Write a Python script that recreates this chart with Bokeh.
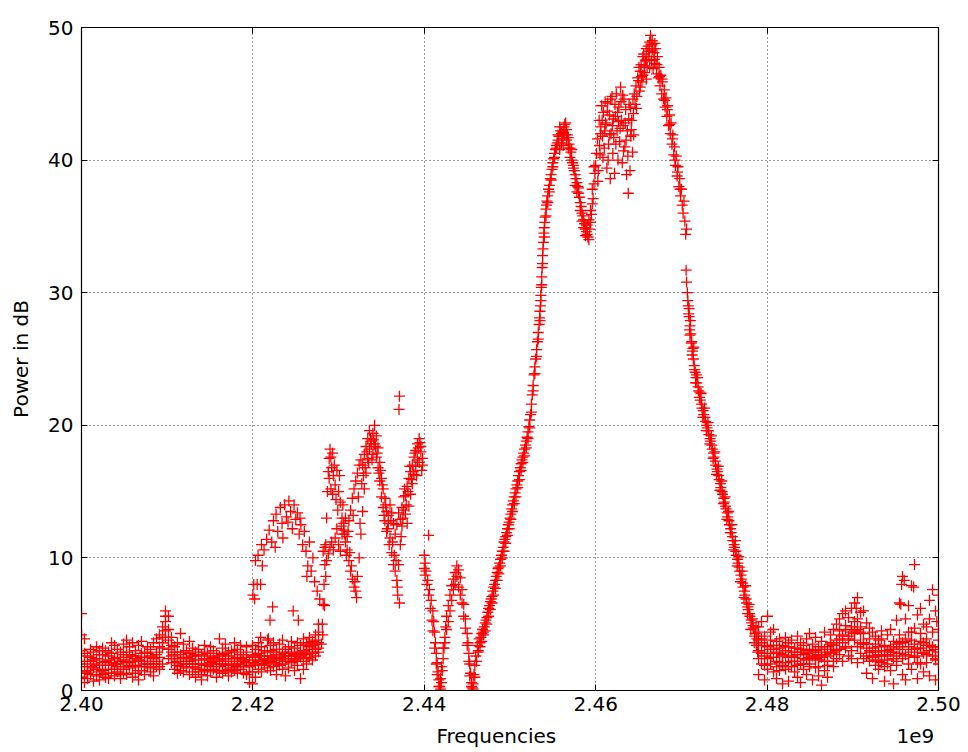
from bokeh.plotting import figure
from bokeh.models import Range1d, FixedTicker, NumeralTickFormatter, LinearAxis, CustomJSTickFormatter
from bokeh.embed import file_html
from bokeh.resources import INLINE

# frequency offsets in MHz above 2.40 GHz, power in dB
BASE_GHZ = 2.40

# low-band noise floor (five sweeps per bin)
low_mhz = [0.0, 0.35, 0.7, 1.05, 1.4, 1.75, 2.1, 2.45, 2.8, 3.15, 3.5, 3.85, 4.2, 4.55, 4.9, 5.25, 5.6, 5.95,
           6.3, 6.65, 7.0, 7.35, 7.7, 8.05, 8.4, 8.75, 9.1, 9.45, 9.8, 10.15, 10.5, 10.85, 11.2, 11.55, 11.9,
           12.25, 12.6, 12.95, 13.3, 13.65, 14.0, 14.35, 14.7, 15.05, 15.4, 15.75, 16.1, 16.45, 16.8, 17.15,
           17.5, 17.85, 18.2, 18.55, 18.9, 19.25, 19.6, 19.95, 20.3, 20.65, 21.0, 21.35, 21.7, 22.05, 22.4,
           22.75, 23.1, 23.45, 23.8, 24.15, 24.5, 24.85, 25.2, 25.55, 25.9, 26.25, 26.6, 26.95, 27.3, 27.65]
low_db_a = [5.8, 3.9, 2.6, 3.1, 1.7, 2.4, 1.9, 3.2, 2.2, 1.6, 2.8, 2.0, 1.4, 2.9, 3.5, 2.1, 1.7, 2.6,
            3.0, 2.3, 1.5, 2.9, 3.3, 2.0, 3.6, 1.8, 2.5, 4.8, 6.0, 5.6, 3.4, 2.7, 2.2, 4.3, 2.0,
            1.7, 3.7, 1.4, 2.3, 3.1, 1.2, 2.4, 1.9, 3.3, 1.6, 2.8, 3.9, 2.2, 1.5, 2.6,
            3.0, 1.9, 2.5, 3.4, 1.8, 2.9, 1.4, 2.6, 2.0, 2.8, 2.3, 3.0, 1.7, 3.4, 2.5,
            3.1, 2.7, 3.8, 2.2, 3.3, 2.9, 2.4, 3.6, 2.6, 3.9, 2.8, 3.3, 3.7, 4.2, 5.0]
low_db_b = [4.2, 1.4, 0.9, 1.2, 2.9, 1.1, 0.8, 1.5, 1.0, 2.6, 1.3, 3.4, 2.5, 0.9, 1.6, 3.8, 2.7, 1.0,
            1.9, 3.4, 2.8, 1.2, 1.8, 3.1, 2.4, 2.9, 4.2, 3.2, 5.2, 3.8, 2.1, 1.6, 3.6, 2.4, 2.9,
            3.0, 2.2, 2.6, 1.0, 1.6, 2.7, 1.5, 2.8, 2.1, 2.5, 1.0, 1.8, 3.2, 2.4, 1.1,
            1.7, 2.9, 1.3, 2.0, 2.7, 1.2, 2.3, 0.5, 3.1, 1.6, 3.3, 1.9, 2.9, 2.2, 3.6,
            2.0, 3.5, 2.4, 3.1, 2.6, 3.7, 3.2, 2.8, 3.4, 2.2, 3.5, 2.5, 2.9, 3.1, 3.6]
low_db_c = [1.0, 0.6, 1.8, 2.2, 0.7, 3.3, 2.7, 2.1, 3.0, 0.9, 3.6, 1.1, 3.1, 1.8, 2.3, 1.2, 3.3, 3.6,
            1.3, 0.8, 3.7, 2.2, 2.5, 1.4, 1.1, 3.9, 1.6, 2.0, 4.5, 2.4, 4.0, 3.3, 1.9, 1.5, 3.5,
            2.5, 1.2, 3.2, 2.9, 2.0, 0.8, 3.4, 1.1, 1.4, 3.0, 2.0, 2.6, 1.3, 3.5, 2.0,
            2.4, 3.6, 3.1, 1.6, 2.2, 3.3, 0.6, 3.4, 1.0, 3.6, 1.4, 2.6, 3.8, 1.5, 1.8,
            1.2, 1.9, 1.6, 1.1, 1.7, 2.1, 1.5, 1.9, 0.9, 1.6, 2.0, 4.0, 2.3, 2.6, 2.9]
low_db_d = [2.0, 2.8, 1.3, 2.5, 2.0, 1.6, 3.0, 1.2, 1.9, 2.3, 1.9, 2.4, 2.0, 1.2, 2.7, 2.5, 1.9, 2.2,
            2.4, 1.8, 2.2, 1.8, 2.0, 2.6, 1.8, 2.2, 3.3, 3.6, 5.6, 4.6, 2.6, 2.1, 2.9, 2.7, 1.4,
            2.2, 2.8, 2.0, 1.7, 2.6, 2.0, 1.9, 2.4, 2.6, 2.2, 1.5, 2.3, 2.7, 1.9, 2.9,
            2.2, 1.5, 2.0, 2.7, 1.3, 2.1, 1.9, 1.4, 2.5, 2.2, 2.0, 2.4, 2.3, 2.6, 2.9,
            2.7, 2.3, 2.9, 2.6, 2.4, 2.2, 2.7, 2.4, 2.9, 3.0, 2.7, 3.1, 3.4, 3.8, 4.4]
low_db_e = [3.0, 2.2, 1.5, 1.8, 2.3, 1.9, 1.4, 2.7, 1.3, 2.9, 2.1, 1.6, 1.8, 2.2, 1.3, 2.9, 2.1, 1.8,
            2.6, 1.5, 2.5, 2.0, 2.8, 1.7, 2.0, 2.7, 1.8, 4.0, 4.0, 3.1, 2.9, 2.4, 1.3, 1.8, 2.5,
            2.0, 2.4, 1.8, 2.7, 1.4, 1.6, 2.9, 2.3, 1.8, 2.0, 2.4, 1.4, 2.0, 2.8, 1.6,
            1.4, 2.4, 1.8, 2.4, 2.3, 2.5, 1.8, 2.1, 2.7, 1.9, 2.6, 2.0, 2.1, 3.0, 2.1,
            2.4, 2.5, 2.0, 2.8, 2.2, 2.6, 2.3, 2.8, 2.5, 3.0, 2.4, 3.6, 2.8, 3.5, 3.2]

# secondary hump from one sweep (2.420-2.428 GHz)
hump = [(20.0, 7.2), (20.1, 8.0), (20.2, 6.9), (20.3, 9.8), (20.5, 8.0), (20.6, 10.2), (20.9, 8.0), (21.0, 11.0),
        (21.3, 10.6), (21.6, 11.4), (21.9, 12.1), (22.2, 11.2), (22.4, 12.8), (22.7, 13.3), (22.9, 12.0),
        (23.2, 13.8), (23.4, 12.6), (23.7, 14.0), (23.9, 13.1), (24.2, 14.3), (24.4, 13.5), (24.6, 12.2),
        (24.8, 14.0), (25.0, 12.9), (25.2, 13.4), (25.4, 11.8), (25.6, 12.5), (25.8, 11.0), (26.0, 12.0),
        (26.2, 10.5), (26.4, 9.4), (26.6, 11.2), (26.8, 9.0), (27.0, 10.0), (27.2, 8.2), (27.5, 7.5),
        (27.8, 6.9), (22.3, 6.3), (22.0, 5.3), (24.7, 6.0), (25.3, 5.3), (20.9, 4.0), (21.8, 3.9),
        (21.1, 9.4), (22.6, 10.8), (23.5, 11.5), (24.1, 12.7), (25.5, 13.0), (26.3, 8.6)]

# band 2.428-2.440 GHz, three sweeps
mid_a = [(28.0, 3.5), (28.1, 5.0), (28.2, 6.5), (28.3, 8.0), (28.4, 9.5), (28.5, 11.0), (28.6, 13.0),
         (28.7, 15.0), (28.8, 16.5), (28.9, 17.5), (29.0, 18.2), (29.1, 17.6), (29.2, 16.8), (29.3, 17.9),
         (29.4, 16.2), (29.6, 15.5), (29.8, 16.6), (30.0, 15.0), (30.2, 14.2), (30.4, 13.0), (30.6, 12.1),
         (30.8, 11.2), (31.0, 10.6), (31.2, 9.8), (31.4, 9.0), (31.6, 8.4), (31.8, 7.8), (32.0, 7.5),
         (32.2, 8.6), (32.4, 10.0), (32.6, 11.8), (32.8, 13.5), (33.0, 15.2), (33.2, 16.4), (33.4, 17.5),
         (33.6, 18.2), (33.8, 18.8), (34.0, 19.4), (34.2, 20.0), (34.4, 19.2), (34.6, 18.3), (34.8, 17.2),
         (35.0, 16.0), (35.2, 15.2), (35.4, 14.5), (35.6, 13.5), (35.8, 12.6), (36.0, 11.5), (36.2, 10.4),
         (36.4, 9.5), (36.6, 9.0), (36.8, 8.3), (37.0, 9.5), (37.2, 11.0), (37.4, 12.4), (37.6, 13.6),
         (37.8, 14.7), (38.0, 15.4), (38.2, 16.0), (38.4, 16.5), (38.6, 17.0), (38.8, 17.6), (39.0, 18.1),
         (39.2, 18.6), (39.4, 19.0), (39.6, 18.4), (39.8, 17.5)]
mid_b = [(28.2, 10.5), (28.4, 10.8), (28.6, 9.8), (28.8, 10.3), (29.0, 10.8), (29.2, 11.2), (29.4, 10.6),
         (29.6, 11.5), (29.8, 12.2), (30.0, 11.0), (30.2, 10.5), (30.4, 11.8), (30.6, 12.6), (30.8, 13.0),
         (31.0, 11.6), (31.2, 12.8), (31.4, 13.6), (31.6, 14.5), (31.8, 15.2), (32.0, 15.8), (32.2, 16.4),
         (32.4, 17.0), (32.6, 17.4), (32.8, 17.0), (33.0, 17.8), (33.2, 18.4), (33.4, 19.0), (33.6, 19.6),
         (33.8, 18.6), (34.0, 17.8), (34.2, 18.6), (34.4, 17.6), (34.6, 16.8), (34.8, 15.8), (35.0, 14.6),
         (35.2, 13.8), (35.4, 12.8), (35.6, 12.0), (35.8, 13.2), (36.0, 14.0), (36.2, 13.4), (36.4, 12.6),
         (36.6, 11.8), (36.8, 12.5), (37.0, 13.4), (37.2, 12.9), (37.4, 13.8), (37.6, 14.6), (37.8, 13.3),
         (38.0, 12.6), (38.2, 13.9), (38.4, 14.8), (38.6, 15.6), (38.8, 16.3), (39.0, 16.9), (39.2, 17.4),
         (39.4, 17.2), (39.6, 18.0), (39.8, 17.0), (37.1, 22.2), (37.05, 21.2), (37.1, 6.6), (36.9, 7.2),
         (36.85, 7.8), (31.9, 8.2), (32.1, 7.0), (28.15, 4.2), (28.35, 6.4), (28.5, 8.6)]
mid_c = [(28.9, 16.0), (29.1, 15.2), (29.3, 14.8), (29.5, 17.0), (29.7, 14.4), (29.9, 13.6), (30.1, 16.2),
         (30.3, 12.4), (30.5, 14.0), (30.7, 11.8), (30.9, 10.2), (31.1, 12.0), (31.3, 10.4), (31.5, 9.4),
         (31.7, 13.2), (32.3, 14.6), (32.5, 12.6), (32.7, 15.6), (32.9, 16.2), (33.1, 16.8), (33.3, 18.0),
         (33.5, 17.2), (33.7, 19.0), (33.9, 17.4), (34.1, 18.9), (34.3, 18.4), (34.5, 17.9), (34.7, 16.4),
         (34.9, 16.6), (35.1, 15.5), (35.3, 13.2), (35.5, 14.0), (35.7, 12.2), (35.9, 11.0), (36.1, 12.8),
         (36.3, 11.2), (36.5, 10.2), (36.7, 9.8), (37.3, 11.6), (37.5, 13.0), (37.7, 15.2), (37.9, 14.0),
         (38.1, 15.0), (38.3, 16.9), (38.5, 15.9), (38.7, 16.5), (38.9, 17.9), (39.1, 16.2), (39.3, 18.3),
         (39.5, 18.7), (39.7, 16.6)]

# band 2.440-2.446 GHz, two sweeps
dip_a = [(40.0, 10.2), (40.1, 9.6), (40.2, 9.0), (40.4, 8.3), (40.5, 11.7), (40.6, 7.6), (40.8, 6.8),
         (41.0, 6.0), (41.1, 5.2), (41.2, 4.4), (41.3, 3.6), (41.4, 2.8), (41.5, 2.1), (41.6, 1.4),
         (41.7, 0.8), (41.8, 0.3), (41.9, 0.1), (42.0, 0.6), (42.1, 1.5), (42.2, 2.4), (42.3, 3.2),
         (42.4, 4.0), (42.5, 4.8), (42.6, 5.6), (42.8, 6.4), (43.0, 7.2), (43.2, 7.9), (43.4, 8.4),
         (43.6, 8.9), (43.8, 9.4), (44.0, 9.1), (44.2, 8.5), (44.4, 7.6), (44.6, 6.5), (44.8, 5.4),
         (45.0, 4.3), (45.1, 3.6), (45.2, 2.8), (45.3, 2.0), (45.4, 1.3), (45.5, 0.6), (45.6, 0.2),
         (45.7, 0.5), (45.8, 1.2), (45.9, 1.9), (46.0, 2.6)]
dip_b = [(40.0, 9.2), (40.1, 8.7), (40.3, 8.0), (40.5, 7.2), (40.7, 6.2), (40.9, 5.3), (41.0, 4.5),
         (41.2, 3.2), (41.4, 2.0), (41.5, 1.2), (41.7, 0.3), (41.9, 0.9), (42.0, 1.8), (42.2, 3.2),
         (42.4, 3.6), (42.6, 4.6), (42.8, 5.2), (43.0, 6.0), (43.2, 6.8), (43.4, 7.6), (43.6, 8.0),
         (43.8, 8.6), (44.0, 7.8), (44.2, 7.2), (44.4, 6.6), (44.6, 5.6), (44.8, 4.7), (45.0, 3.4),
         (45.2, 2.2), (45.3, 1.1), (45.5, 0.3), (45.7, 0.1), (45.9, 1.0)]

# main lobe rising edge and first peak, three sweeps
rise_a = [(46.2, 3.4), (46.4, 3.9), (46.6, 4.0), (46.8, 4.6), (47.0, 4.8), (47.2, 5.3), (47.4, 5.9),
          (47.6, 6.4), (47.8, 6.9), (48.0, 7.5), (48.2, 8.0), (48.4, 8.6), (48.6, 9.2), (48.8, 9.6),
          (49.0, 10.2), (49.2, 10.8), (49.4, 11.4), (49.6, 11.9), (49.8, 12.5), (50.0, 13.0), (50.2, 13.7),
          (50.4, 14.3), (50.6, 14.9), (50.8, 15.5), (51.0, 16.2), (51.2, 16.8), (51.4, 17.4), (51.6, 17.9),
          (51.8, 18.5), (52.0, 19.1), (52.2, 19.9), (52.4, 20.8), (52.6, 22.3), (52.8, 23.8), (53.0, 25.0),
          (53.2, 26.3), (53.4, 27.6), (53.5, 28.6), (53.6, 29.4), (53.7, 31.2), (53.8, 32.8), (53.9, 33.8),
          (54.0, 34.9), (54.1, 35.7), (54.2, 36.3), (54.3, 36.9), (54.5, 37.8), (54.7, 38.6), (54.9, 39.3),
          (55.1, 40.1), (55.3, 40.8), (55.5, 41.3), (55.7, 41.8), (55.9, 42.2), (56.1, 41.6), (56.3, 42.5),
          (56.5, 42.8), (56.7, 41.9), (56.9, 41.2), (57.1, 40.6), (57.3, 39.8), (57.5, 39.2), (57.7, 38.6),
          (57.9, 38.0), (58.1, 37.2), (58.3, 36.5), (58.5, 35.8), (58.7, 35.2), (58.9, 34.6), (59.1, 34.2),
          (59.3, 34.8), (59.5, 35.9), (59.7, 37.1), (59.9, 39.0), (60.1, 40.5)]
rise_b = [(46.1, 2.2), (46.3, 2.9), (46.5, 3.3), (46.7, 3.7), (46.9, 4.2), (47.1, 4.5), (47.3, 5.0),
          (47.5, 5.6), (47.7, 6.1), (47.9, 6.6), (48.1, 7.2), (48.3, 7.7), (48.5, 8.3), (48.7, 8.8),
          (48.9, 9.4), (49.1, 10.0), (49.3, 10.5), (49.5, 11.1), (49.7, 11.7), (49.9, 12.2), (50.1, 12.9),
          (50.3, 13.5), (50.5, 14.1), (50.7, 14.6), (50.9, 15.3), (51.1, 15.9), (51.3, 16.6), (51.5, 17.2),
          (51.7, 17.7), (51.9, 18.3), (52.1, 19.0), (52.3, 19.8), (52.5, 21.0), (52.7, 22.6), (52.9, 23.9),
          (53.1, 25.2), (53.3, 26.5), (53.5, 27.9), (53.6, 29.8), (53.7, 30.6), (53.8, 32.2), (54.0, 34.2),
          (54.2, 35.8), (54.4, 36.8), (54.6, 37.6), (54.8, 38.5), (55.0, 39.5), (55.2, 40.2), (55.4, 40.9),
          (55.6, 41.5), (55.8, 40.8), (56.0, 42.0), (56.2, 41.1), (56.4, 41.9), (56.6, 42.3), (56.8, 40.9),
          (57.0, 40.2), (57.2, 40.8), (57.4, 39.4), (57.6, 38.1), (57.8, 37.6), (58.0, 37.9), (58.2, 36.2),
          (58.4, 35.4), (58.6, 34.9), (58.8, 34.3), (59.0, 35.1), (59.2, 34.0), (59.4, 36.2), (59.6, 36.7),
          (59.8, 38.2), (60.0, 39.6)]
rise_c = [(46.3, 3.0), (46.5, 3.6), (46.7, 4.3), (46.9, 4.4), (47.1, 5.1), (47.3, 5.5), (47.5, 6.2),
          (47.7, 6.7), (47.9, 7.1), (48.1, 7.8), (48.3, 8.3), (48.5, 8.9), (48.7, 9.3), (48.9, 9.9),
          (49.1, 10.5), (49.3, 11.2), (49.5, 11.6), (49.7, 12.2), (49.9, 12.7), (50.1, 13.3), (50.3, 14.0),
          (50.5, 14.6), (50.7, 15.2), (50.9, 15.8), (51.1, 16.5), (51.3, 17.1), (51.5, 17.6), (51.7, 18.2),
          (51.9, 18.8), (52.1, 19.5), (52.3, 20.4), (52.5, 21.6), (52.7, 23.0), (52.9, 24.4), (53.1, 25.7),
          (53.3, 27.0), (53.45, 28.1), (53.55, 29.0), (53.65, 30.4), (53.75, 31.9), (53.85, 33.3),
          (53.95, 34.5), (54.05, 35.3), (54.25, 36.6), (54.4, 37.3), (54.6, 38.1), (54.8, 38.9), (55.0, 39.8),
          (55.2, 40.5), (55.4, 41.1), (55.6, 41.9), (55.8, 42.5), (56.0, 41.3), (56.2, 42.1), (56.4, 42.7),
          (56.6, 41.5), (56.8, 41.7), (57.0, 40.9), (57.2, 40.0), (57.4, 39.6), (57.6, 38.9), (57.8, 38.3),
          (58.0, 37.5), (58.2, 36.8), (58.4, 36.0), (58.6, 35.5), (58.8, 34.8), (59.0, 34.4), (59.2, 35.5),
          (59.4, 35.3), (59.6, 37.8), (59.8, 39.5)]

# noisy plateau 2.460-2.465 GHz
plateau = [(60.2, 41.6), (60.3, 39.2), (60.4, 43.0), (60.5, 40.4), (60.6, 42.5), (60.7, 44.1), (60.8, 41.8),
           (60.9, 43.6), (61.0, 40.9), (61.1, 44.4), (61.2, 42.7), (61.3, 39.4), (61.4, 44.3), (61.5, 41.2),
           (61.6, 43.4), (61.7, 38.6), (61.8, 42.0), (61.9, 44.8), (62.0, 40.5), (62.1, 41.7), (62.2, 39.0),
           (62.3, 43.3), (62.4, 45.0), (62.5, 42.2), (62.6, 40.0), (62.7, 44.0), (62.8, 41.4), (62.9, 45.5),
           (63.0, 43.0), (63.1, 39.8), (63.2, 42.6), (63.3, 44.6), (63.4, 41.0), (63.5, 43.8), (63.6, 38.9),
           (63.7, 42.2), (63.8, 37.5), (63.9, 44.2), (64.0, 39.2), (64.1, 41.8), (64.2, 43.0), (64.3, 40.6),
           (64.4, 43.5), (64.5, 45.0), (64.6, 44.2), (64.7, 45.6), (64.8, 44.8), (64.9, 46.2),
           (60.25, 38.4), (60.55, 42.0), (60.85, 40.2), (61.15, 42.8), (61.45, 40.0), (61.75, 44.6),
           (62.05, 43.1), (62.35, 41.2), (62.65, 42.9), (62.95, 44.4), (63.25, 40.7), (63.55, 41.5),
           (63.85, 43.1), (64.15, 42.3), (64.45, 41.9), (64.75, 43.9), (60.45, 41.1), (60.75, 43.0),
           (61.05, 42.2), (61.35, 43.7), (61.65, 41.9), (61.95, 42.6), (62.25, 44.2), (62.55, 43.6),
           (62.85, 42.4), (63.15, 44.9), (63.45, 42.8), (63.75, 40.3), (64.05, 44.0), (64.35, 44.6)]

# main peak 2.465-2.471 GHz
peak = [(65.0, 46.0), (65.1, 45.2), (65.2, 46.7), (65.3, 47.2), (65.4, 45.9), (65.5, 47.8), (65.6, 48.0),
        (65.7, 46.6), (65.8, 47.5), (65.9, 48.4), (66.0, 47.0), (66.1, 48.6), (66.2, 47.8), (66.3, 48.9),
        (66.4, 49.4), (66.5, 47.5), (66.6, 48.3), (66.7, 46.9), (66.8, 48.1), (66.9, 47.3), (67.0, 48.4),
        (67.1, 46.5), (67.2, 47.8), (67.3, 46.2), (67.4, 47.0), (67.5, 45.6), (67.6, 46.4), (67.7, 45.0),
        (67.8, 45.9), (67.9, 44.6), (68.0, 45.3), (68.1, 44.0), (68.2, 44.7), (68.3, 43.3), (68.4, 44.1),
        (68.5, 42.6), (68.6, 43.4), (68.7, 42.0), (68.8, 42.8), (68.9, 41.2), (69.0, 41.9), (69.1, 40.4),
        (69.2, 41.0), (69.3, 39.6), (69.4, 40.3), (69.5, 38.8), (69.6, 39.5), (69.7, 38.0), (69.8, 38.6),
        (69.9, 37.3), (70.0, 37.8), (70.1, 36.6), (70.2, 36.0), (70.3, 36.9), (70.4, 35.4), (70.5, 34.4),
        (70.6, 34.8), (70.55, 31.7), (70.6, 30.8), (70.7, 30.0), (70.75, 29.4), (65.5, 46.4), (65.9, 46.1),
        (66.3, 47.0), (66.6, 49.0), (66.9, 48.8), (65.2, 45.5), (65.05, 47.0), (65.35, 46.3), (65.65, 47.1),
        (65.95, 47.6), (66.25, 48.2), (66.55, 48.7), (66.85, 47.6), (67.15, 47.2), (67.45, 46.3),
        (67.75, 46.1), (68.05, 44.5), (68.35, 43.8), (68.65, 42.7), (68.95, 41.6), (69.25, 40.0),
        (69.55, 39.1), (69.85, 37.8)]

# falling edge, three sweeps
fall_a = [(70.8, 29.0), (70.9, 28.2), (71.0, 27.5), (71.1, 26.9), (71.2, 26.3), (71.3, 25.6), (71.4, 25.0),
          (71.5, 24.5), (71.6, 24.0), (71.7, 23.6), (71.8, 23.2), (72.0, 22.6), (72.2, 21.9), (72.4, 21.3),
          (72.6, 20.8), (72.8, 20.3), (73.0, 19.8), (73.2, 19.3), (73.4, 18.8), (73.6, 18.2), (73.8, 17.6),
          (74.0, 17.0), (74.2, 16.5), (74.4, 15.9), (74.6, 15.3), (74.8, 14.8), (75.0, 14.2), (75.2, 13.7),
          (75.4, 13.1), (75.6, 12.5), (75.8, 11.9), (76.0, 11.3), (76.2, 10.8), (76.4, 10.2), (76.6, 9.6),
          (76.8, 9.0), (77.0, 8.4), (77.2, 7.8), (77.4, 7.2), (77.6, 6.6), (77.8, 6.1), (78.0, 5.6),
          (78.2, 5.1), (78.4, 4.7), (78.6, 4.3), (78.8, 3.9)]
fall_b = [(70.85, 28.4), (70.95, 27.2), (71.05, 27.9), (71.25, 25.3), (71.45, 25.9), (71.65, 23.2),
          (71.9, 23.6), (72.1, 22.1), (72.3, 22.4), (72.5, 20.6), (72.7, 21.3), (72.9, 19.6), (73.1, 20.2),
          (73.3, 18.6), (73.5, 19.2), (73.7, 17.5), (73.9, 18.0), (74.1, 16.3), (74.3, 16.9), (74.5, 15.1),
          (74.7, 15.8), (74.9, 14.1), (75.1, 14.6), (75.3, 12.9), (75.5, 13.5), (75.7, 11.9), (75.9, 12.5),
          (76.1, 10.6), (76.3, 11.3), (76.5, 9.4), (76.7, 10.1), (76.9, 8.2), (77.1, 9.0), (77.3, 7.0),
          (77.5, 7.9), (77.7, 5.8), (77.9, 6.5), (78.1, 4.6), (78.3, 5.4), (78.5, 3.6), (78.7, 4.8),
          (78.9, 2.9)]
fall_c = [(70.9, 28.8), (71.0, 26.8), (71.15, 26.2), (71.35, 25.8), (71.55, 24.2), (71.75, 23.8),
          (71.95, 22.9), (72.15, 22.5), (72.35, 21.6), (72.55, 21.1), (72.75, 20.6), (72.95, 20.0),
          (73.15, 19.6), (73.35, 19.0), (73.55, 18.5), (73.75, 17.9), (73.95, 17.3), (74.15, 16.7),
          (74.35, 16.2), (74.55, 15.6), (74.75, 15.0), (74.95, 14.5), (75.15, 13.9), (75.35, 13.4),
          (75.55, 12.8), (75.75, 12.2), (75.95, 11.6), (76.15, 11.0), (76.35, 10.5), (76.55, 9.9),
          (76.75, 9.3), (76.95, 8.7), (77.15, 8.1), (77.35, 7.5), (77.55, 6.9), (77.75, 6.3), (77.95, 5.8),
          (78.15, 5.3), (78.35, 4.9), (78.55, 4.1), (78.75, 3.4), (78.95, 4.4)]

# high-band noise floor (five sweeps per bin)
high_mhz = [79.0, 79.35, 79.7, 80.05, 80.4, 80.75, 81.1, 81.45, 81.8, 82.15, 82.5, 82.85, 83.2, 83.55, 83.9,
            84.25, 84.6, 84.95, 85.3, 85.65, 86.0, 86.35, 86.7, 87.05, 87.4, 87.75, 88.1, 88.45, 88.8,
            89.15, 89.5, 89.85, 90.2, 90.55, 90.9, 91.25, 91.6, 91.95, 92.3, 92.65, 93.0, 93.35, 93.7,
            94.05, 94.4, 94.75, 95.1, 95.45, 95.8, 96.15, 96.5, 96.85, 97.2, 97.55, 97.9, 98.25, 98.6,
            98.95, 99.3, 99.65, 100.0]
high_db_a = [4.8, 3.6, 2.6, 5.6, 4.4, 3.1, 2.2, 3.9, 1.9, 3.0, 2.5, 3.8, 1.4, 4.1, 2.9,
             3.4, 1.2, 3.1, 2.6, 4.0, 2.3, 3.7, 1.5, 3.3, 4.2, 2.9, 3.8, 4.5, 3.6,
             4.9, 5.5, 4.4, 5.2, 7.0, 5.9, 4.3, 3.5, 4.7, 3.2, 4.1, 2.7, 3.9, 1.8,
             3.0, 4.6, 2.4, 3.5, 4.2, 8.6, 5.4, 6.4, 3.8, 9.5, 5.7, 4.3, 3.6, 4.8,
             6.8, 7.6, 6.0, 7.2]
high_db_b = [3.0, 5.2, 4.1, 3.3, 2.5, 1.4, 3.7, 2.8, 3.4, 2.1, 0.7, 1.8, 3.2, 2.7, 3.6,
             1.6, 3.9, 2.0, 3.5, 1.7, 3.3, 2.5, 3.1, 2.2, 2.8, 4.6, 5.0, 3.1, 5.8,
             3.3, 4.1, 6.2, 6.6, 4.6, 3.6, 6.0, 5.1, 2.9, 4.4, 2.3, 3.8, 2.1, 3.4,
             4.2, 1.5, 3.7, 5.3, 6.6, 3.1, 3.9, 2.6, 7.9, 4.7, 3.2, 2.0, 5.0, 2.7,
             3.4, 4.4, 3.1, 4.6]
high_db_c = [1.2, 2.0, 0.8, 1.6, 3.8, 4.6, 0.9, 1.5, 0.5, 4.0, 3.6, 2.6, 2.2, 1.0, 0.6,
             2.4, 2.8, 4.3, 0.8, 3.0, 1.1, 0.4, 4.4, 1.0, 3.6, 1.8, 2.4, 5.4, 2.2,
             6.0, 2.6, 3.0, 3.8, 2.1, 4.8, 2.4, 1.3, 3.9, 0.9, 3.5, 1.6, 4.5, 0.7,
             2.3, 3.3, 0.5, 1.9, 2.8, 1.2, 0.8, 4.4, 1.6, 2.5, 0.9, 6.2, 1.4, 3.9,
             1.1, 2.6, 0.8, 2.0]
high_db_d = [3.8, 2.8, 3.4, 2.4, 3.1, 2.5, 2.9, 2.1, 2.6, 3.3, 1.8, 2.9, 2.5, 3.2, 2.0,
             2.7, 2.3, 2.5, 3.0, 2.4, 2.7, 3.1, 2.2, 2.6, 2.9, 3.4, 3.0, 3.9, 4.2,
             4.6, 3.8, 4.8, 4.3, 5.4, 4.4, 3.5, 3.2, 3.0, 2.6, 2.9, 2.2, 3.0, 2.6,
             2.7, 3.1, 2.9, 2.6, 3.3, 3.6, 2.7, 3.3, 2.9, 3.5, 2.6, 3.2, 2.8, 3.4,
             3.0, 3.3, 2.4, 3.8]
high_db_e = [2.4, 3.9, 1.9, 2.8, 2.0, 3.4, 1.8, 3.2, 2.7, 1.6, 3.3, 2.2, 2.9, 1.9, 3.1,
             2.0, 3.0, 1.8, 2.9, 2.6, 1.8, 2.9, 2.7, 1.9, 3.5, 2.2, 3.1, 2.7, 4.1,
             3.2, 3.9, 2.4, 4.5, 3.3, 2.8, 3.6, 2.6, 2.2, 2.5, 1.9, 3.3, 2.6, 3.0,
             2.0, 2.9, 3.1, 2.2, 3.6, 2.4, 3.7, 2.0, 4.4, 3.1, 2.1, 3.7, 2.9, 2.1,
             5.4, 3.3, 2.3, 2.9]
high_extra = [(95.7, 8.0), (97.1, 7.8), (99.8, 5.2), (95.6, 6.5), (90.4, 6.2), (96.0, 8.3)]

# axis ticks and texts
x_ticks = [2.40, 2.42, 2.44, 2.46, 2.48, 2.50]
y_ticks = [0, 10, 20, 30, 40, 50]
x_title = "Frequencies"
x_offset_text = "1e9"
y_title = "Power in dB"

xs, ys = [], []
for yl in (low_db_a, low_db_b, low_db_c, low_db_d, low_db_e):
    xs += low_mhz
    ys += yl
for yl in (high_db_a, high_db_b, high_db_c, high_db_d, high_db_e):
    xs += high_mhz
    ys += yl
for seg in (hump, mid_a, mid_b, mid_c, dip_a, dip_b, rise_a, rise_b, rise_c, plateau, peak,
            fall_a, fall_b, fall_c, high_extra):
    xs += [pt[0] for pt in seg]
    ys += [pt[1] for pt in seg]
xg = [BASE_GHZ + m / 1000.0 for m in xs]

FONT = "DejaVu Sans"
p = figure(width=968, height=752, output_backend="svg", toolbar_location=None,
           x_range=Range1d(2.40, 2.50), y_range=Range1d(0, 50),
           min_border_left=81, min_border_right=30, min_border_top=27, min_border_bottom=62)
p.background_fill_color = "white"
p.border_fill_color = "white"
p.outline_line_color = "black"
p.outline_line_width = 1.2

p.scatter(xg, ys, marker="cross", size=11, line_color="#ff0000", line_width=1.3)

xax = p.xaxis[0]
yax = p.yaxis[0]
xax.ticker = FixedTicker(ticks=x_ticks)
yax.ticker = FixedTicker(ticks=y_ticks)
xax.formatter = NumeralTickFormatter(format="0.00")
for ax in (xax, yax):
    ax.axis_line_color = "black"
    ax.major_tick_in = 6
    ax.major_tick_out = 0
    ax.minor_tick_line_color = None
    ax.major_tick_line_color = "black"
    ax.major_label_text_font = FONT
    ax.major_label_text_font_size = "20px"
    ax.major_label_text_color = "black"
    ax.axis_label_text_font = FONT
    ax.axis_label_text_font_size = "20px"
    ax.axis_label_text_font_style = "normal"
    ax.axis_label_text_color = "black"
yax.axis_label = y_title
xax.major_label_standoff = 6
yax.major_label_standoff = 8
yax.axis_label_standoff = 12

# second row below the tick labels: axis title and the 1e9 offset text on one line
title_pos = [2.4484, 2.4973]
row = LinearAxis(ticker=FixedTicker(ticks=title_pos),
                 formatter=CustomJSTickFormatter(args=dict(a=x_title, b=x_offset_text),
                                                 code="return tick < 2.47 ? a : b;"),
                 axis_line_color=None, major_tick_line_color=None, minor_tick_line_color=None,
                 major_tick_in=0, major_tick_out=0, major_label_standoff=10,
                 major_label_text_font=FONT, major_label_text_font_size="20px",
                 major_label_text_color="black")
p.add_layout(row, "below")

# inward ticks on the top and right frame edges
top = LinearAxis(ticker=FixedTicker(ticks=x_ticks),
                 formatter=CustomJSTickFormatter(code="return '';"),
                 axis_line_color=None, major_tick_in=6, major_tick_out=0, minor_tick_line_color=None,
                 major_tick_line_color="black", major_label_standoff=0)
right = LinearAxis(ticker=FixedTicker(ticks=y_ticks),
                   formatter=CustomJSTickFormatter(code="return '';"),
                   axis_line_color=None, major_tick_in=6, major_tick_out=0, minor_tick_line_color=None,
                   major_tick_line_color="black", major_label_standoff=0)
p.add_layout(top, "above")
p.add_layout(right, "right")

for g in (p.xgrid[0], p.ygrid[0]):
    g.grid_line_color = "black"
    g.grid_line_dash = "1 3"
    g.grid_line_alpha = 0.8

open("out.html", "w").write(file_html(p, INLINE))
